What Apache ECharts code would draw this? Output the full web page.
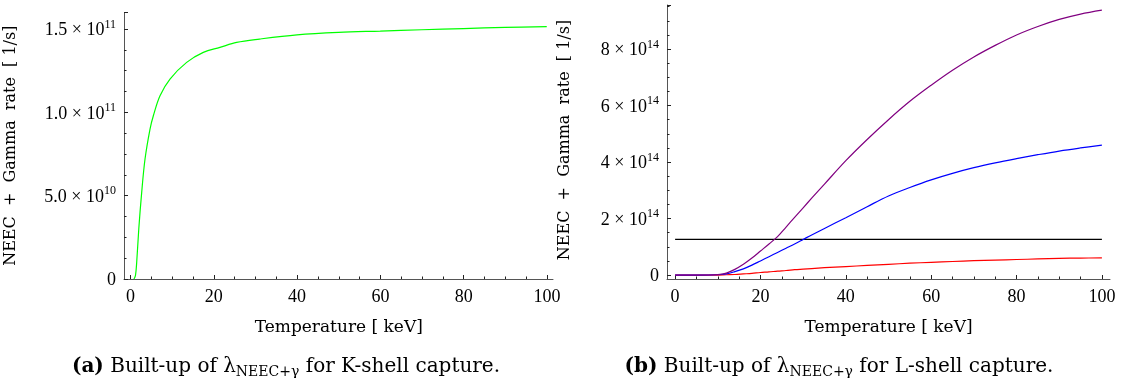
<!DOCTYPE html>
<html>
<head>
<meta charset="utf-8">
<script src="https://cdn.jsdelivr.net/npm/echarts@6/dist/echarts.min.js"></script>
<style>
  html, body { margin: 0; padding: 0; background: #fff; }
  #main { width: 1127px; height: 378px; }
</style>
</head>
<body>
<div id="main"></div>
<script>
// K-shell capture (left panel), rate in 1/s
var kTemp = [0.85, 1.2, 1.5, 2.0, 2.7, 3.5, 4.7, 5.5, 7.1, 9.5, 13.5, 17.5, 21.5, 25.5, 31, 40, 50, 60, 70, 80, 90, 100];
var kRate = [0, 0.2e10, 1.0e10, 3.0e10, 5.2e10, 7.2e10, 9.0e10, 9.8e10, 11.0e10, 12.0e10, 13.0e10, 13.6e10, 13.9e10, 14.2e10, 14.4e10, 14.65e10, 14.8e10, 14.88e10, 14.96e10, 15.03e10, 15.1e10, 15.15e10];

// L-shell capture (right panel), rate in 1/s
var lTemp   = [0, 5, 10, 12, 14, 16, 18, 20, 22, 24, 26, 28, 30, 32, 35, 40, 45, 50, 55, 60, 65, 70, 75, 80, 85, 90, 95, 100];
var lPurple = [0, 0, 0.02e14, 0.07e14, 0.2e14, 0.38e14, 0.6e14, 0.85e14, 1.1e14, 1.36e14, 1.7e14, 2.04e14, 2.38e14, 2.72e14, 3.22e14, 4.05e14, 4.8e14, 5.5e14, 6.15e14, 6.72e14, 7.25e14, 7.72e14, 8.13e14, 8.5e14, 8.8e14, 9.05e14, 9.24e14, 9.38e14];
var lBlue   = [0, 0, 0.01e14, 0.04e14, 0.12e14, 0.22e14, 0.35e14, 0.5e14, 0.65e14, 0.8e14, 0.95e14, 1.1e14, 1.26e14, 1.42e14, 1.65e14, 2.03e14, 2.42e14, 2.8e14, 3.1e14, 3.37e14, 3.6e14, 3.8e14, 3.97e14, 4.12e14, 4.26e14, 4.39e14, 4.5e14, 4.6e14];
var lRed    = [0, 0, 0, 0.01e14, 0.02e14, 0.04e14, 0.06e14, 0.09e14, 0.11e14, 0.14e14, 0.16e14, 0.19e14, 0.21e14, 0.23e14, 0.26e14, 0.3e14, 0.34e14, 0.38e14, 0.42e14, 0.45e14, 0.48e14, 0.51e14, 0.53e14, 0.55e14, 0.57e14, 0.59e14, 0.6e14, 0.61e14];
var lLevel  = [1.26e14, 1.26e14];
var lLevelT = [0, 100];

// tick labels
var kTickVals = [0, 5e10, 1e11, 1.5e11];
var kTickMant = ['0', '5.0', '1.0', '1.5'];
var kTickExp  = ['', '10', '11', '11'];
var lTickVals = [0, 2e14, 4e14, 6e14, 8e14];
var lTickMant = ['0', '2', '4', '6', '8'];
var lTickExp  = ['', '14', '14', '14', '14'];

var FONT = 'Liberation Serif';
var TEXFONT = 'DejaVu Serif';

function pairs(xs, ys) {
  return xs.map(function (x, i) { return [x, ys[i]]; });
}

function sciLabel(vals, mant, exp) {
  return function (v) {
    for (var i = 0; i < vals.length; i++) {
      if (Math.abs(vals[i] - v) <= Math.abs(vals[i]) * 1e-6 + 1e-9) {
        if (!exp[i]) return '{m|' + mant[i] + '}';
        return '{m|' + mant[i] + ' \u00d7 10}{s|' + exp[i] + '}';
      }
    }
    return '';
  };
}

var labelRich = {
  m: { fontFamily: FONT, fontSize: 18, color: '#000', padding: [3, 0, 0, 0] },
  s: { fontFamily: FONT, fontSize: 12, color: '#000', verticalAlign: 'top' }
};

var tickStyle = { show: true, inside: true, length: 4, lineStyle: { color: '#222', width: 1 } };
var minorStyle = { show: true, splitNumber: 4, length: 2.5, lineStyle: { color: '#222', width: 1 } };
var axisLineOn = { show: true, onZero: false, lineStyle: { color: '#555', width: 1 } };

// plain axis: line only
function lineAxis(grid, min, max) {
  return {
    type: 'value', gridIndex: grid, min: min, max: max,
    axisLine: axisLineOn, axisTick: { show: false }, minorTick: { show: false },
    axisLabel: { show: false }, splitLine: { show: false }
  };
}
function hiddenAxis(grid, min, max) {
  return { type: 'value', gridIndex: grid, min: min, max: max, show: false, splitLine: { show: false } };
}
function tickXAxis(grid, name) {
  return {
    type: 'value', gridIndex: grid, min: 0, max: 100, interval: 20,
    axisLine: { show: false, onZero: false }, axisTick: tickStyle, minorTick: minorStyle, splitLine: { show: false },
    axisLabel: { fontFamily: FONT, fontSize: 18, color: '#000', margin: 9 },
    name: name, nameLocation: 'middle', nameGap: 40,
    nameTextStyle: { fontFamily: TEXFONT, fontSize: 17, color: '#000' }
  };
}
function tickYAxis(grid, max, interval, vals, mant, exp, name, gap, withLine) {
  return {
    type: 'value', gridIndex: grid, min: 0, max: max, interval: interval,
    axisLine: withLine ? axisLineOn : { show: false, onZero: false },
    axisTick: tickStyle, minorTick: minorStyle, splitLine: { show: false },
    axisLabel: { margin: 8, formatter: sciLabel(vals, mant, exp), rich: labelRich },
    name: name, nameLocation: 'middle', nameRotate: 90, nameGap: gap,
    nameTextStyle: { fontFamily: TEXFONT, fontSize: 16, color: '#000' }
  };
}

var yName = 'NEEC  +  Gamma  rate  [ 1/s]';
var xName = 'Temperature [ keV]';

function caption(tag, shell, cx) {
  return {
    text: '{b|(' + tag + ')} Built-up of \u03bb{s|NEEC+\u03b3} for ' + shell + '-shell capture.',
    left: cx, top: 350, textAlign: 'center',
    textStyle: {
      fontFamily: TEXFONT, fontSize: 20, fontWeight: 'normal', color: '#000',
      rich: {
        b: { fontFamily: TEXFONT, fontSize: 20, fontWeight: 'bold', color: '#000' },
        s: { fontFamily: TEXFONT, fontSize: 14, color: '#000', padding: [10, 0, 0, 0] }
      }
    }
  };
}

var chart = echarts.init(document.getElementById('main'));

var option = {
  backgroundColor: '#fff',
  animation: false,
  title: [caption('a', 'K', 281), caption('b', 'L', 834)],
  grid: [
    { left: 124, top: 12.4, width: 429, height: 266.6 },   // left data
    { left: 130.5, top: 12.4, width: 416.5, height: 266.6 }, // left x ticks
    { left: 667, top: 5, width: 443, height: 274 },         // right data
    { left: 675.1, top: 5, width: 426.8, height: 274 },     // right x ticks
    { left: 667, top: 5, width: 443, height: 270 }          // right y ticks
  ],
  xAxis: [
    lineAxis(0, -1.55, 101.5),
    tickXAxis(1, xName),
    lineAxis(2, -1.9, 101.9),
    tickXAxis(3, xName),
    hiddenAxis(4, 0, 100)
  ],
  yAxis: [
    tickYAxis(0, 1.6e11, 5e10, kTickVals, kTickMant, kTickExp, yName, 105, true),
    hiddenAxis(1, 0, 1.6e11),
    lineAxis(2, -0.14e14, 9.56e14),
    hiddenAxis(3, 0, 1),
    tickYAxis(4, 9.56e14, 2e14, lTickVals, lTickMant, lTickExp, yName, 94, false)
  ],
  series: [
    {
      type: 'line', xAxisIndex: 0, yAxisIndex: 0, data: pairs(kTemp, kRate),
      showSymbol: false, smooth: 0.35,
      lineStyle: { color: '#00ff00', width: 1.2 }
    },
    {
      type: 'line', xAxisIndex: 2, yAxisIndex: 2, data: pairs(lLevelT, lLevel),
      showSymbol: false, lineStyle: { color: '#000', width: 1.2 }
    },
    {
      type: 'line', xAxisIndex: 2, yAxisIndex: 2, data: pairs(lTemp, lRed),
      showSymbol: false, smooth: 0.35,
      lineStyle: { color: '#ff0000', width: 1.2 }
    },
    {
      type: 'line', xAxisIndex: 2, yAxisIndex: 2, data: pairs(lTemp, lBlue),
      showSymbol: false, smooth: 0.35,
      lineStyle: { color: '#0000ff', width: 1.2 }
    },
    {
      type: 'line', xAxisIndex: 2, yAxisIndex: 2, data: pairs(lTemp, lPurple),
      showSymbol: false, smooth: 0.35,
      lineStyle: { color: '#800080', width: 1.2 }
    }
  ]
};

chart.setOption(option);
</script>
</body>
</html>
